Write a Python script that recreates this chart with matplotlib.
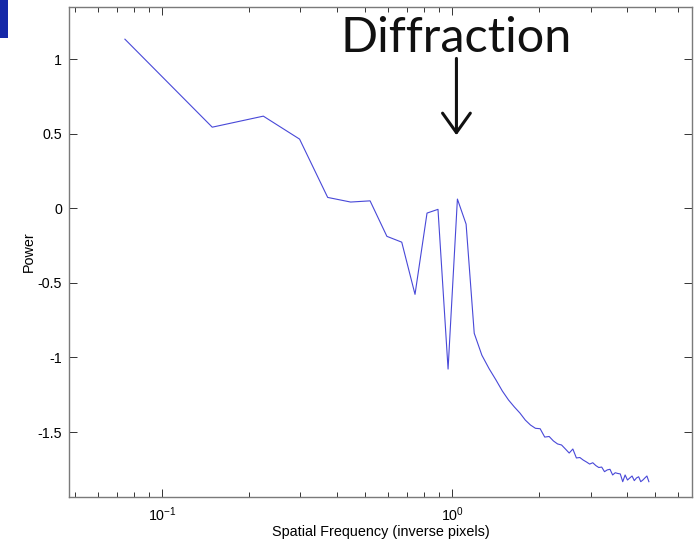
#plotting

import numpy as np
import matplotlib
matplotlib.use('Agg')
import matplotlib.pyplot as plt
from matplotlib.patches import Rectangle

# spatial frequency step (inverse pixels) and the number of frequency bins
freq_step = 0.0745
bins = np.arange(1, 65)

# power spectrum values
power = [
    1.134, 0.544, 0.618, 0.464, 0.073, 0.042, 0.050, -0.188, -0.227, -0.577,
    -0.032, -0.007, -1.078, 0.062, -0.106, -0.838, -0.985, -1.075, -1.150, -1.225,
    -1.285, -1.332, -1.373, -1.420, -1.453, -1.475, -1.478, -1.534, -1.530, -1.560,
    -1.580, -1.587, -1.614, -1.641, -1.614, -1.674, -1.671, -1.688, -1.701, -1.715,
    -1.706, -1.725, -1.738, -1.735, -1.766, -1.754, -1.750, -1.788, -1.773, -1.778,
    -1.781, -1.833, -1.788, -1.822, -1.808, -1.795, -1.826, -1.808, -1.800, -1.833,
    -1.822, -1.808, -1.795, -1.833,
]
freq = freq_step * bins

plt.rcParams['font.family'] = ['Liberation Sans', 'DejaVu Sans']

fig = plt.figure(figsize=(6.97, 5.48), dpi=100)
ax = fig.add_axes([0.099, 0.093, 0.894, 0.894])

ax.semilogx(freq, power, color='#4848d8', linewidth=0.8)
ax.set_xlim(0.0478, 6.72)
ax.set_ylim(-1.936, 1.349)
ax.set_yticks([-1.5, -1, -0.5, 0, 0.5, 1])
ax.set_yticklabels(['-1.5', '-1', '-0.5', '0', '0.5', '1'])

ax.tick_params(which='both', direction='in', top=True, right=True,
               labelsize=10.3, color='#333333')
ax.tick_params(which='major', length=6, width=0.7)
ax.tick_params(which='minor', length=3.5, width=0.7)
ax.tick_params(axis='x', pad=6)
ax.tick_params(axis='y', pad=5)
for s in ax.spines.values():
    s.set_color('#7a7a7a')
    s.set_linewidth(1.0)

ax.set_xlabel('Spatial Frequency (inverse pixels)', fontsize=10.4, labelpad=1)
ax.set_ylabel('Power', fontsize=10.4, labelpad=1)

# annotation for the diffraction peak
ax.annotate('', xy=(1.035, 0.49), xytext=(1.035, 1.005),
            arrowprops=dict(arrowstyle='->, head_length=0.7, head_width=0.5',
                            color='#111111', lw=2.2, mutation_scale=20,
                            shrinkA=0, shrinkB=0))
ax.text(1.035, 1.05, 'Diffraction', fontsize=35, ha='center', va='baseline',
        color='#111111', family=['Lato', 'DejaVu Sans'])

# blue block in the top left corner
fig.patches.append(Rectangle((0, 0.93), 0.011, 0.07, transform=fig.transFigure,
                             facecolor='#1528a8', edgecolor='none'))

plt.savefig('out.png', dpi=100)
